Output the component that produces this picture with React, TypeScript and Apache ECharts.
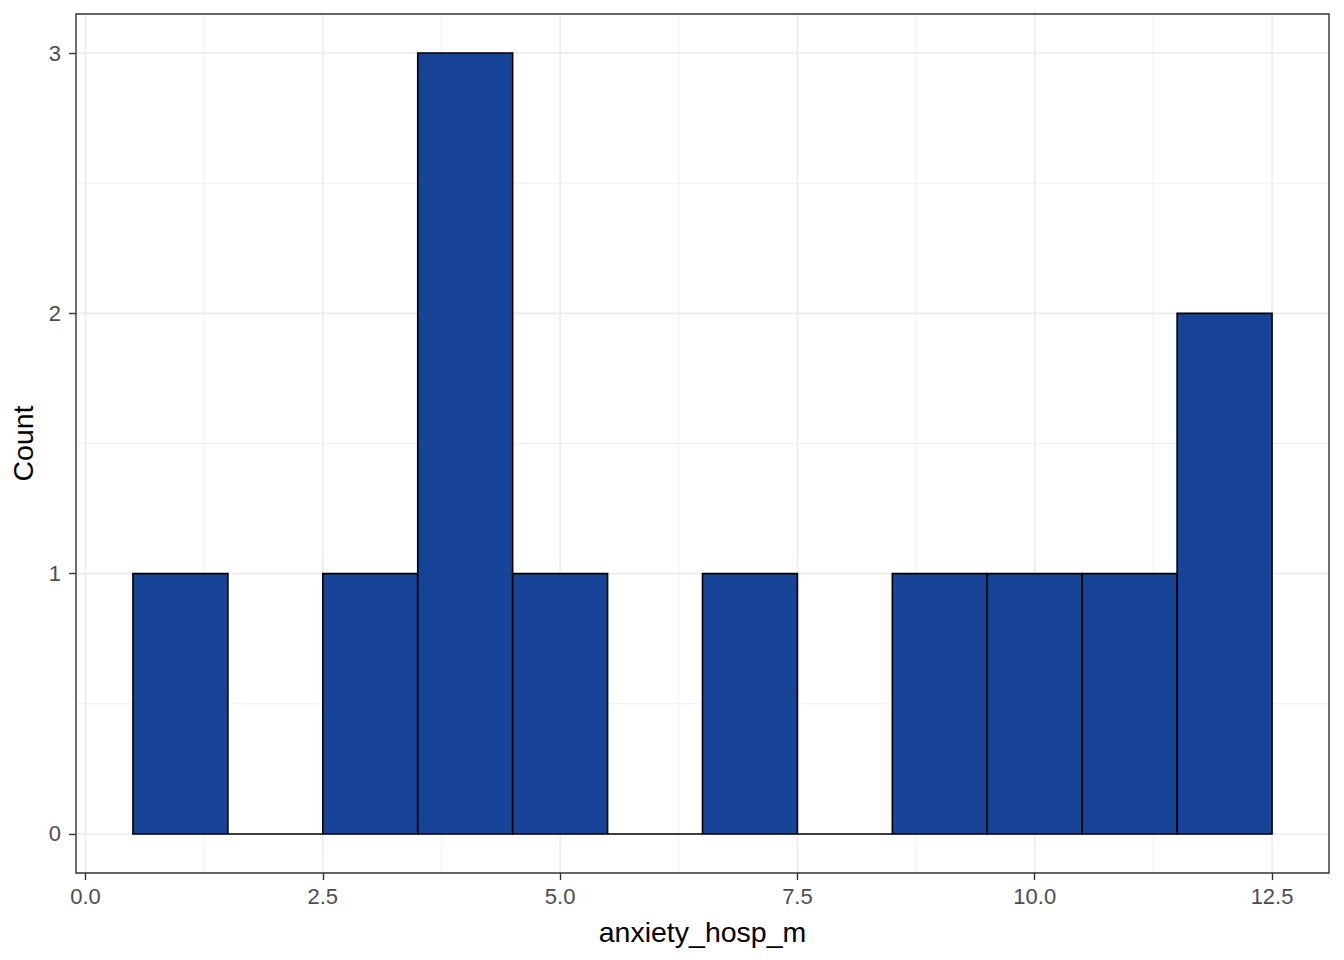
import React, { useEffect, useRef } from "react";
import * as echarts from "echarts";

const binCenters = [1, 2, 3, 4, 5, 6, 7, 8, 9, 10, 11, 12];
const binCounts = [1, 0, 1, 3, 1, 0, 1, 0, 1, 1, 1, 2];
const binWidth = 1;
const xMajorTicks = [0, 2.5, 5, 7.5, 10, 12.5];
const xMinorTicks = [1.25, 3.75, 6.25, 8.75, 11.25];
const yMajorTicks = [0, 1, 2, 3];
const yMinorTicks = [0.5, 1.5, 2.5];
const xTitle = "anxiety_hosp_m";
const yTitle = "Count";

const FONT = "'Liberation Sans', Arial, sans-serif";
const BAR_FILL = "#174497";

export default function App() {
  const ref = useRef<HTMLDivElement>(null);
  useEffect(() => {
    document.body.style.margin = "0";
    const chart = echarts.init(ref.current!, null, { renderer: "svg" });
    const bars = binCenters.map((c, i) => [c - binWidth / 2, c + binWidth / 2, binCounts[i]]);

    const vLine = (width: number) => (params: any, api: any) => {
      const cs = params.coordSys;
      const x = api.coord([api.value(0), 0])[0];
      return {
        type: "line",
        shape: { x1: x, y1: cs.y, x2: x, y2: cs.y + cs.height },
        style: { stroke: "#EBEBEB", lineWidth: width },
      };
    };
    const hLine = (width: number) => (params: any, api: any) => {
      const cs = params.coordSys;
      const y = api.coord([0, api.value(1)])[1];
      return {
        type: "line",
        shape: { x1: cs.x, y1: y, x2: cs.x + cs.width, y2: y },
        style: { stroke: "#EBEBEB", lineWidth: width },
      };
    };

    chart.setOption({
      animation: false,
      backgroundColor: "#FFFFFF",
      grid: {
        left: 76,
        top: 14,
        width: 1253,
        height: 859,
        show: true,
        borderColor: "#333333",
        borderWidth: 1.4,
        backgroundColor: "transparent",
        z: 10,
      },
      xAxis: {
        type: "value",
        min: -0.1,
        max: 13.1,
        position: "bottom",
        name: xTitle,
        nameLocation: "middle",
        nameGap: 44,
        nameTextStyle: { color: "#000000", fontSize: 28.5, fontFamily: FONT },
        axisLine: { show: false, onZero: false },
        axisTick: {
          show: true,
          inside: false,
          customValues: xMajorTicks,
          length: 7,
          lineStyle: { color: "#333333", width: 1.4 },
        },
        axisLabel: {
          customValues: xMajorTicks,
          formatter: (v: number) => v.toFixed(1),
          color: "#4D4D4D",
          fontSize: 22,
          fontFamily: FONT,
          margin: 12,
        },
        splitLine: { show: false },
      },
      yAxis: {
        type: "value",
        min: -0.15,
        max: 3.15,
        position: "left",
        name: yTitle,
        nameLocation: "middle",
        nameGap: 35,
        nameTextStyle: { color: "#000000", fontSize: 28.5, fontFamily: FONT },
        axisLine: { show: false, onZero: false },
        axisTick: {
          show: true,
          inside: false,
          customValues: yMajorTicks,
          length: 7,
          lineStyle: { color: "#333333", width: 1.4 },
        },
        axisLabel: {
          customValues: yMajorTicks,
          formatter: (v: number) => String(v),
          color: "#4D4D4D",
          fontSize: 22,
          fontFamily: FONT,
          margin: 15,
        },
        splitLine: { show: false },
      },
      series: [
        { type: "custom", data: xMinorTicks.map((v) => [v, 0]), renderItem: vLine(0.8), silent: true, z: 1 },
        { type: "custom", data: yMinorTicks.map((v) => [0, v]), renderItem: hLine(0.8), silent: true, z: 1 },
        { type: "custom", data: xMajorTicks.map((v) => [v, 0]), renderItem: vLine(1.6), silent: true, z: 2 },
        { type: "custom", data: yMajorTicks.map((v) => [0, v]), renderItem: hLine(1.6), silent: true, z: 2 },
        {
          type: "custom",
          data: bars,
          z: 5,
          silent: true,
          encode: { x: [0, 1], y: 2 },
          renderItem: (params: any, api: any) => {
            const p1 = api.coord([api.value(0), api.value(2)]);
            const p2 = api.coord([api.value(1), 0]);
            if (api.value(2) === 0) {
              return {
                type: "line",
                shape: { x1: p1[0], y1: p2[1], x2: p2[0], y2: p2[1] },
                style: { stroke: "#000000", lineWidth: 1.6 },
              };
            }
            return {
              type: "rect",
              shape: { x: p1[0], y: p1[1], width: p2[0] - p1[0], height: p2[1] - p1[1] },
              style: { fill: BAR_FILL, stroke: "#000000", lineWidth: 1.6 },
            };
          },
        },
      ],
    });
    return () => chart.dispose();
  }, []);
  return (
    <div
      ref={ref}
      style={{ position: "absolute", left: 0, top: 0, width: 1344, height: 960 }}
    />
  );
}
